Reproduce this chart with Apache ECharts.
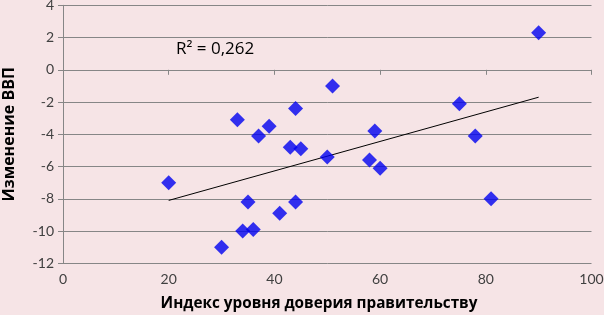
<!DOCTYPE html>
<html>
<head>
<meta charset="utf-8">
<script src="https://cdn.jsdelivr.net/npm/echarts@6/dist/echarts.min.js"></script>
<style>
  html, body { margin: 0; padding: 0; background: #f6e4e6; }
  #container { width: 604px; height: 315px; }
</style>
</head>
<body>
<div id="container"></div>
<script>
// index of trust in government vs GDP change
var trustIndex = [20, 30, 34, 36, 35, 41, 44, 50, 58, 60, 33, 37, 39, 44, 51, 43, 45, 59, 90, 75, 78, 81];
var gdpChange = [-7, -11, -10, -9.9, -8.2, -8.9, -8.2, -5.4, -5.6, -6.1, -3.1, -4.1, -3.5, -2.4, -1, -4.8, -4.9, -3.8, 2.3, -2.1, -4.1, -8];
// trend line ends
var trendX = [20, 90];
var trendY = [-8.1, -1.7];
var r2Label = 'R² = 0,262';

var points = trustIndex.map(function (x, i) { return [x, gdpChange[i]]; });
var trend = trendX.map(function (x, i) { return [x, trendY[i]]; });

var dom = document.getElementById('container');
var myChart = echarts.init(dom, null, { renderer: 'canvas' });

var font = 'Lato, "Open Sans", sans-serif';
var titleFont = '"Open Sans", sans-serif';

var option = {
    backgroundColor: '#f6e4e6',
    animation: false,
    textStyle: { fontFamily: font },
    grid: { left: 63, right: 12.5, top: 5.3, bottom: 51.7, outerBoundsMode: 'none', containLabel: false },
    xAxis: {
        type: 'value',
        min: 0, max: 100, interval: 20,
        axisLine: { lineStyle: { color: '#868686', width: 1 } },
        axisTick: { show: true, length: 5, lineStyle: { color: '#868686' } },
        axisLabel: { color: '#404040', fontSize: 14, margin: 9, fontFamily: font },
        splitLine: { show: false }
    },
    yAxis: {
        type: 'value',
        min: -12, max: 4, interval: 2,
        name: 'Изменение ВВП',
        nameLocation: 'middle',
        nameGap: 46,
        nameTextStyle: { color: '#000', fontSize: 16, fontWeight: 'bold', fontFamily: titleFont },
        axisLine: { show: true, lineStyle: { color: '#868686', width: 1 } },
        axisTick: { show: true, length: 5, lineStyle: { color: '#868686' } },
        axisLabel: { color: '#404040', fontSize: 14, margin: 9, fontFamily: font },
        splitLine: { show: true, lineStyle: { color: '#868686', width: 1 } }
    },
    graphic: [
        {
            type: 'text', left: 176, top: 41,
            style: { text: r2Label, fontSize: 17, fill: '#000', fontFamily: titleFont }
        },
        {
            type: 'text', x: 319, y: 304,
            style: {
                text: 'Индекс уровня доверия правительству',
                fontSize: 15.3, fontWeight: 'bold', fill: '#000', fontFamily: titleFont,
                align: 'center', verticalAlign: 'middle'
            }
        }
    ],
    series: [
        {
            type: 'line',
            data: trend,
            showSymbol: false,
            lineStyle: { color: '#000', width: 1 },
            z: 2
        },
        {
            type: 'scatter',
            data: points,
            symbol: 'diamond',
            symbolSize: 15,
            itemStyle: { color: '#0000f0' },
            z: 3
        }
    ]
};

myChart.setOption(option);
window.addEventListener('resize', myChart.resize);
</script>
</body>
</html>
